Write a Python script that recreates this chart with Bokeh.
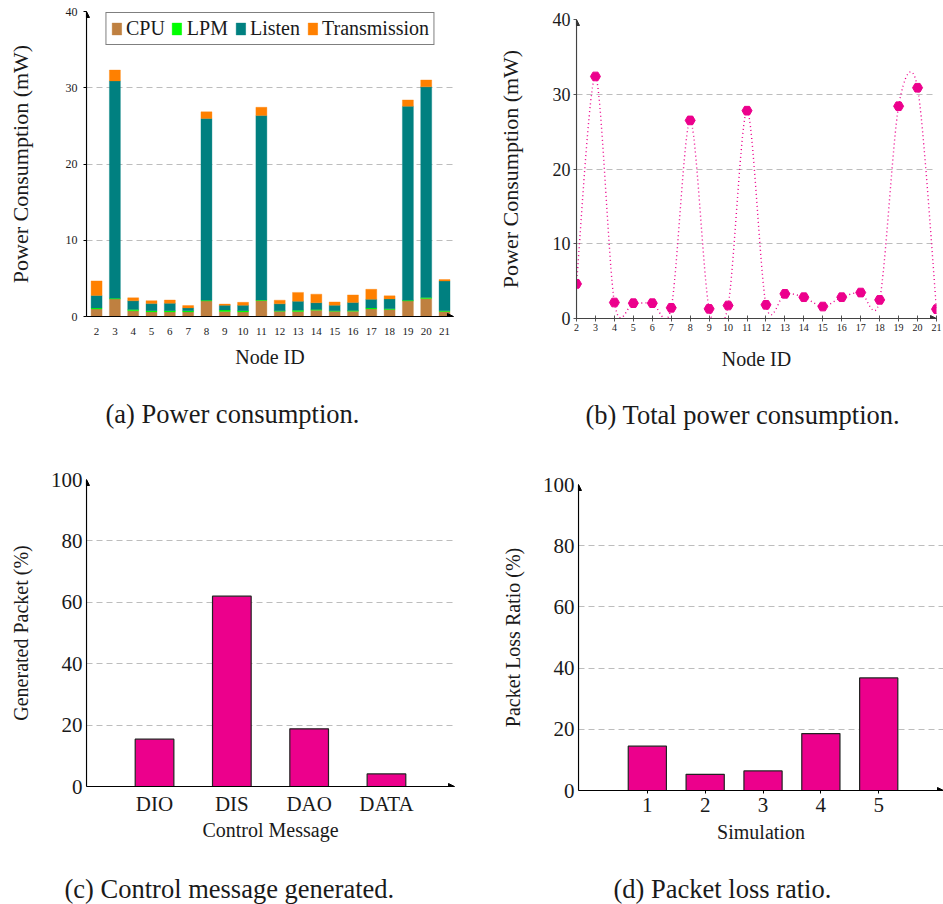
import numpy as np
from bokeh.plotting import figure
from bokeh.layouts import column, row
from bokeh.models import (ColumnDataSource, FixedTicker, Title, Arrow, NormalHead,
                          Range1d, FactorRange)
from bokeh.embed import file_html
from bokeh.resources import INLINE

FONT = "Liberation Serif"
TXT = "#1a1a1a"

# ---------------- data ----------------
nodes = list(range(2, 22))
node_labels = [str(n) for n in nodes]
cpu = [1.0, 2.3, 0.74, 0.6, 0.6, 0.6, 2.04, 0.65, 0.6, 2.09, 0.7, 0.65, 0.83, 0.7, 0.7, 1.0, 0.91, 2.04, 2.35, 0.65]
lpm = [0.12, 0.1, 0.18, 0.17, 0.17, 0.14, 0.1, 0.2, 0.17, 0.08, 0.05, 0.18, 0.1, 0.05, 0.08, 0.13, 0.1, 0.09, 0.15, 0.1]
listen = [1.64, 28.5, 1.14, 0.92, 0.96, 0.39, 23.83, 0.61, 0.7, 24.18, 0.91, 1.17, 0.88, 0.74, 1.05, 1.13, 1.3, 25.44, 27.62, 3.91]
transmission = [1.91, 1.42, 0.39, 0.39, 0.43, 0.3, 0.87, 0.17, 0.39, 1.09, 0.48, 1.16, 1.12, 0.42, 1.0, 1.31, 0.4, 0.83, 0.9, 0.18]
energy_series = ["CPU", "LPM", "Listen", "Transmission"]
energy_colors = ["#bf8040", "#00ff00", "#008080", "#ff8000"]

total_power = [4.63, 32.38, 2.14, 2.05, 2.05, 1.43, 26.5, 1.29, 1.74, 27.8, 1.83, 3.3, 2.85, 1.6, 2.85, 3.47, 2.49, 28.4, 30.87, 1.25]

msg_types = ["DIO", "DIS", "DAO", "DATA"]
msg_generated = [15.4, 62.0, 18.8, 4.1]

simulations = [1, 2, 3, 4, 5]
packet_loss = [14.5, 5.3, 6.4, 18.6, 36.8]

MAGENTA = "#ec008c"
GRID = "#bdbdbd"


def base_style(p, ytick_fs, xtick_fs, label_fs, axis_color="#000000"):
    p.outline_line_color = None
    p.background_fill_color = "white"
    p.border_fill_color = "white"
    p.xgrid.grid_line_color = None
    p.ygrid.grid_line_color = GRID
    p.ygrid.grid_line_dash = "6 4"
    p.ygrid.grid_line_width = 1
    for ax in (p.xaxis[0], p.yaxis[0]):
        ax.axis_line_color = axis_color
        ax.axis_line_width = 1.1
        ax.major_tick_line_color = axis_color
        ax.minor_tick_line_color = None
        ax.major_label_text_font = FONT
        ax.major_label_text_color = TXT
        ax.axis_label_text_font = FONT
        ax.axis_label_text_font_style = "normal"
        ax.axis_label_text_color = TXT
        ax.axis_label_text_font_size = label_fs
    p.yaxis[0].major_label_text_font_size = ytick_fs
    p.xaxis[0].major_label_text_font_size = xtick_fs


def add_arrows(p, x0, x1, y0, y1, color="#000000", xarrow=True):
    head = dict(size=6, fill_color=color, line_color=color, line_width=1)
    p.add_layout(Arrow(end=NormalHead(**head), x_start=x0, y_start=y0, x_end=x0, y_end=y1,
                       line_color=color, line_width=1.1))
    if xarrow:
        p.add_layout(Arrow(end=NormalHead(**head), x_start=x0, y_start=y0, x_end=x1, y_end=y0,
                           line_color=color, line_width=1.1))


def caption(p, text, offset, gap):
    # invisible spacer between the axis label and the caption
    p.add_layout(Title(text=" ", text_font_size="1px", standoff=gap), "below")
    t = Title(text=text, align="left", text_font=FONT, text_font_size="26.5px",
              text_font_style="normal", text_color=TXT, offset=offset, standoff=2)
    p.add_layout(t, "below")


# ---------------- (a) stacked bars ----------------
src_a = ColumnDataSource(dict(node=nodes, cpu=cpu, lpm=lpm, listen=listen, tx=transmission))
xa = (1.45, 21.49)
pa = figure(width=471, height=450, x_range=Range1d(*xa), y_range=Range1d(0, 40),
            output_backend="svg", toolbar_location=None,
            min_border_left=86, min_border_right=18, min_border_top=11, min_border_bottom=134)
pa.vbar_stack(["cpu", "lpm", "listen", "tx"], x="node", width=0.6, source=src_a,
              fill_color=energy_colors, line_color=energy_colors, line_alpha=0.35, line_width=1,
              legend_label=energy_series)
base_style(pa, "12px", "11px", "22px")
pa.xaxis[0].axis_label_text_font_size = "20px"
pa.xaxis[0].ticker = FixedTicker(ticks=nodes)
pa.xaxis[0].major_label_overrides = {n: s for n, s in zip(nodes, node_labels)}
pa.yaxis[0].ticker = FixedTicker(ticks=[0, 10, 20, 30, 40])
pa.xaxis[0].major_tick_in = 0
pa.xaxis[0].major_tick_out = 0
pa.yaxis[0].major_tick_in = 0
pa.yaxis[0].major_tick_out = 3
pa.xaxis[0].major_label_standoff = 11
pa.yaxis[0].major_label_standoff = 6
pa.xaxis[0].axis_label = "Node ID"
pa.yaxis[0].axis_label = "Power Consumption (mW)"
pa.xaxis[0].axis_label_standoff = 8
pa.yaxis[0].axis_label_standoff = 30
add_arrows(pa, xa[0], xa[1], 0, 40)
lg = pa.legend[0]
lg.orientation = "horizontal"
lg.location = "top_center"
lg.margin = 1
lg.padding = 4
lg.spacing = 6
lg.label_standoff = 4
lg.glyph_width = 12
lg.glyph_height = 15
lg.label_text_font = FONT
lg.label_text_font_size = "20px"
lg.label_text_color = TXT
lg.label_height = 16
lg.border_line_color = "#000000"
lg.border_line_width = 1.2
lg.background_fill_alpha = 1
caption(pa, "(a) Power consumption.", 19, 22)

# ---------------- (b) total power smooth line ----------------
xb = np.array(nodes, dtype=float)
yb = np.array(total_power, dtype=float)
s = 0.15
def controls(arr):
    prev = np.concatenate([[arr[0]], arr[:-1]])
    nxt = np.concatenate([arr[1:], [arr[-1]]])
    d = nxt - prev
    return arr[:-1] + s * d[:-1], arr[1:] - s * d[1:]
cx0, cx1 = controls(xb)
cy0, cy1 = controls(yb)
pb = figure(width=472, height=450, x_range=Range1d(2, 21), y_range=Range1d(0, 40),
            output_backend="svg", toolbar_location=None,
            min_border_left=105, min_border_right=7, min_border_top=19, min_border_bottom=132)
pb.bezier(x0=xb[:-1], y0=yb[:-1], x1=xb[1:], y1=yb[1:], cx0=cx0, cy0=cy0, cx1=cx1, cy1=cy1,
          line_color=MAGENTA, line_width=1.4, line_dash="1 3")
pb.scatter(x=xb, y=yb, marker="hex", size=10, fill_color=MAGENTA, line_color=MAGENTA)
base_style(pb, "18px", "10px", "22px", axis_color="#555555")
pb.xaxis[0].axis_label_text_font_size = "20px"
pb.xaxis[0].ticker = FixedTicker(ticks=nodes)
pb.yaxis[0].ticker = FixedTicker(ticks=[0, 10, 20, 30, 40])
pb.xaxis[0].major_tick_in = 3
pb.xaxis[0].major_tick_out = 3
pb.yaxis[0].major_tick_in = 0
pb.yaxis[0].major_tick_out = 3
pb.xaxis[0].major_label_standoff = 2
pb.yaxis[0].major_label_standoff = 3
pb.xaxis[0].axis_label = "Node ID"
pb.yaxis[0].axis_label = "Power Consumption (mW)"
pb.xaxis[0].axis_label_standoff = 14
pb.yaxis[0].axis_label_standoff = 27
add_arrows(pb, 2, 21, 0, 40, color="#333333")
caption(pb, "(b) Total power consumption.", 9, 21)

# ---------------- (c) control messages ----------------
pad_c = 0.19
pc = figure(width=471, height=454, x_range=FactorRange(factors=msg_types, range_padding=pad_c),
            y_range=Range1d(0, 100), output_backend="svg", toolbar_location=None,
            min_border_left=86, min_border_right=17, min_border_top=29, min_border_bottom=118)
pc.vbar(x=msg_types, top=msg_generated, width=0.5, fill_color=MAGENTA,
        line_color="#222222", line_width=1.2)
base_style(pc, "21px", "21px", "20px")
pc.yaxis[0].ticker = FixedTicker(ticks=[0, 20, 40, 60, 80, 100])
pc.xaxis[0].major_tick_in = 0
pc.xaxis[0].major_tick_out = 0
pc.yaxis[0].major_tick_in = 0
pc.yaxis[0].major_tick_out = 0
pc.xaxis[0].major_label_standoff = 5
pc.yaxis[0].major_label_standoff = 4
pc.xaxis[0].axis_label = "Control Message"
pc.yaxis[0].axis_label = "Generated Packet (%)"
pc.xaxis[0].axis_label_standoff = 0
pc.yaxis[0].axis_label_standoff = 16
xc0 = -pad_c * len(msg_types) / 2
add_arrows(pc, xc0, len(msg_types) - xc0, 0, 100)
caption(pc, "(c) Control message generated.", -22, 24)

# ---------------- (d) packet loss ----------------
xd = (-0.19, 6.12)
pd_ = figure(width=472, height=454, x_range=Range1d(*xd), y_range=Range1d(0, 100),
             output_backend="svg", toolbar_location=None,
             min_border_left=107, min_border_right=0, min_border_top=34, min_border_bottom=114)
pd_.vbar(x=simulations, top=packet_loss, width=0.66, fill_color=MAGENTA,
         line_color="#222222", line_width=1.2)
base_style(pd_, "21px", "21px", "20px")
pd_.xaxis[0].ticker = FixedTicker(ticks=simulations)
pd_.yaxis[0].ticker = FixedTicker(ticks=[0, 20, 40, 60, 80, 100])
pd_.xaxis[0].major_tick_in = 0
pd_.xaxis[0].major_tick_out = 3
pd_.yaxis[0].major_tick_in = 0
pd_.yaxis[0].major_tick_out = 0
pd_.xaxis[0].major_label_standoff = 4
pd_.yaxis[0].major_label_standoff = 4
pd_.xaxis[0].axis_label = "Simulation"
pd_.yaxis[0].axis_label = "Packet Loss Ratio (%)"
pd_.xaxis[0].axis_label_standoff = 6
pd_.yaxis[0].axis_label_standoff = 16
add_arrows(pd_, xd[0], xd[1], 0, 100)
caption(pd_, "(d) Packet loss ratio.", 35, 22)

layout = column(row(column(pa), column(pb)), row(column(pc), column(pd_)))
open("out.html", "w").write(file_html(layout, INLINE))
